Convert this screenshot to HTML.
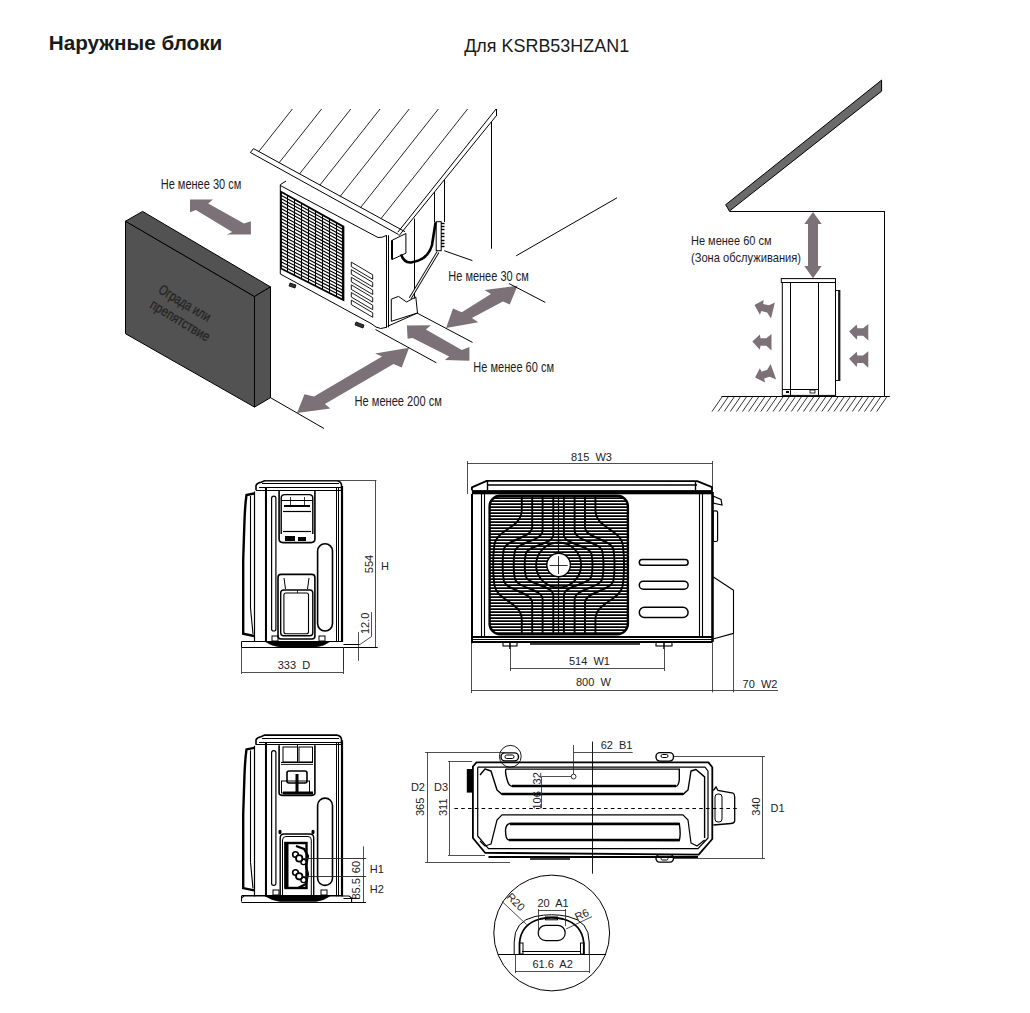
<!DOCTYPE html>
<html><head><meta charset="utf-8"><style>
html,body{margin:0;padding:0;background:#fff;}
body{width:1030px;height:1013px;position:relative;overflow:hidden;font-family:"Liberation Sans",sans-serif;}
svg{position:absolute;left:0;top:0;}
</style></head><body>
<svg width="1030" height="1013" viewBox="0 0 1030 1013">
<text x="48.80" y="49.80" font-family="Liberation Sans" font-size="20.7" fill="#1a1a1a" font-weight="bold" text-anchor="start"   xml:space="preserve">Наружные блоки</text>
<text x="464.20" y="51.80" font-family="Liberation Sans" font-size="17.95" fill="#1a1a1a" font-weight="normal" text-anchor="start"   xml:space="preserve">Для KSRB53HZAN1</text>
<polygon points="125.5,221.2 254.5,296.5 254.5,407.1 125.5,333.7" fill="#535253" stroke="#000" stroke-width="1" />
<polygon points="125.5,221.2 142.6,211.4 270.5,286.9 254.5,296.5" fill="#535253" stroke="#000" stroke-width="1" />
<polygon points="254.5,296.5 270.5,286.9 270.5,397.7 254.5,407.1" fill="#535253" stroke="#000" stroke-width="1" />
<text x="0.00" y="0.00" font-family="Liberation Sans" font-size="14" fill="#262626" font-weight="normal" text-anchor="start" textLength="58.0" lengthAdjust="spacingAndGlyphs" transform="translate(157.6,292.3) rotate(31)" stroke="#262626" stroke-width="0.35" xml:space="preserve">Ограда или</text>
<text x="0.00" y="0.00" font-family="Liberation Sans" font-size="14" fill="#262626" font-weight="normal" text-anchor="start" textLength="67.0" lengthAdjust="spacingAndGlyphs" transform="translate(149,307.3) rotate(31)" stroke="#262626" stroke-width="0.35" xml:space="preserve">препятствие</text>
<polygon points="190.0,199.4 213.0,199.4 208.2,203.6 244.0,223.4 250.9,221.3 250.9,234.6 226.9,234.6 232.2,231.9 195.9,210.0 190.0,212.2" fill="#7d7178" stroke="none" stroke-width="1" />
<polygon points="446.1,328.0 453.0,308.4 461.8,312.2 490.9,293.9 484.6,290.1 517.4,285.7 509.8,304.6 502.9,301.5 471.9,317.9 478.3,322.3" fill="#7d7178" stroke="none" stroke-width="1" />
<polygon points="406.9,325.4 430.9,325.2 425.9,329.5 461.8,350.0 469.4,346.9 469.4,360.8 444.8,360.1 449.2,356.4 412.6,338.0 407.6,338.7" fill="#7d7178" stroke="none" stroke-width="1" />
<polygon points="297.0,412.9 304.5,394.2 314.0,396.6 382.0,356.5 375.1,353.4 409.1,347.7 401.7,367.4 393.5,364.0 324.9,404.1 330.3,408.6" fill="#7d7178" stroke="none" stroke-width="1" />
<text x="160.70" y="189.20" font-family="Liberation Sans" font-size="14.4" fill="#1c1c24" font-weight="normal" text-anchor="start" textLength="80.6" lengthAdjust="spacingAndGlyphs"  xml:space="preserve">Не менее 30 см</text>
<text x="448.30" y="280.60" font-family="Liberation Sans" font-size="14.4" fill="#1c1c24" font-weight="normal" text-anchor="start" textLength="80.4" lengthAdjust="spacingAndGlyphs"  xml:space="preserve">Не менее 30 см</text>
<text x="473.30" y="371.80" font-family="Liberation Sans" font-size="14.4" fill="#1c1c24" font-weight="normal" text-anchor="start" textLength="80.7" lengthAdjust="spacingAndGlyphs"  xml:space="preserve">Не менее 60 см</text>
<text x="354.50" y="405.80" font-family="Liberation Sans" font-size="14.4" fill="#1c1c24" font-weight="normal" text-anchor="start" textLength="87.4" lengthAdjust="spacingAndGlyphs"  xml:space="preserve">Не менее 200 см</text>
<line x1="270.50" y1="397.70" x2="324.00" y2="428.50" stroke="#000" stroke-width="1" />
<line x1="375.50" y1="329.50" x2="436.40" y2="362.80" stroke="#000" stroke-width="1" />
<line x1="417.00" y1="313.00" x2="472.50" y2="342.40" stroke="#000" stroke-width="1" />
<line x1="508.90" y1="283.50" x2="545.30" y2="302.40" stroke="#000" stroke-width="1" />
<line x1="444.20" y1="250.70" x2="472.40" y2="260.60" stroke="#000" stroke-width="1" />
<line x1="516.20" y1="255.80" x2="617.00" y2="197.80" stroke="#000" stroke-width="1" />
<line x1="253.50" y1="148.60" x2="405.00" y2="231.70" stroke="#000" stroke-width="1" />
<line x1="250.40" y1="152.50" x2="398.50" y2="234.50" stroke="#000" stroke-width="1" />
<line x1="253.50" y1="148.60" x2="250.40" y2="152.50" stroke="#000" stroke-width="1" />
<line x1="397.80" y1="232.20" x2="496.10" y2="109.00" stroke="#000" stroke-width="1" />
<line x1="399.00" y1="235.70" x2="496.10" y2="116.00" stroke="#000" stroke-width="1" />
<line x1="496.50" y1="109.00" x2="496.50" y2="116.00" stroke="#000" stroke-width="1" />
<line x1="292.40" y1="109.00" x2="258.82" y2="151.52" stroke="#000" stroke-width="0.85" />
<line x1="321.60" y1="109.00" x2="279.19" y2="162.70" stroke="#000" stroke-width="0.85" />
<line x1="350.80" y1="109.00" x2="299.55" y2="173.88" stroke="#000" stroke-width="0.85" />
<line x1="380.00" y1="109.00" x2="319.92" y2="185.07" stroke="#000" stroke-width="0.85" />
<line x1="409.20" y1="109.00" x2="340.29" y2="196.25" stroke="#000" stroke-width="0.85" />
<line x1="438.40" y1="109.00" x2="360.66" y2="207.43" stroke="#000" stroke-width="0.85" />
<line x1="467.60" y1="109.00" x2="381.03" y2="218.61" stroke="#000" stroke-width="0.85" />
<line x1="491.50" y1="122.00" x2="491.50" y2="248.70" stroke="#000" stroke-width="1" />
<polyline points="280.3,184.7 280.3,274.0 371.0,323.5 376.0,327.0 380.6,328.5 386.8,327.3" fill="none" stroke="#000" stroke-width="1" stroke-linejoin="round" />
<line x1="280.30" y1="184.70" x2="286.00" y2="181.00" stroke="#000" stroke-width="1" />
<line x1="280.30" y1="185.50" x2="378.00" y2="237.50" stroke="#000" stroke-width="1" />
<path d="M378,237.5 Q382,238 386.8,235.3" fill="none" stroke="#000" stroke-width="1" />
<line x1="386.50" y1="235.30" x2="386.50" y2="327.30" stroke="#000" stroke-width="1" />
<line x1="388.50" y1="235.30" x2="388.50" y2="327.30" stroke="#000" stroke-width="1" />
<line x1="414.50" y1="218.60" x2="414.50" y2="298.60" stroke="#000" stroke-width="1" />
<line x1="434.50" y1="192.00" x2="434.50" y2="222.00" stroke="#000" stroke-width="1" />
<line x1="444.50" y1="180.00" x2="444.50" y2="222.00" stroke="#000" stroke-width="1" />
<polygon points="281.0,191.8 343.4,226.6 343.4,300.0 281.0,268.5" fill="none" stroke="#000" stroke-width="1.8" />
<line x1="343.00" y1="226.60" x2="343.00" y2="300.00" stroke="#000" stroke-width="2.2" />
<line x1="281.00" y1="195.13" x2="343.40" y2="229.79" stroke="#000" stroke-width="1.15" />
<line x1="281.00" y1="198.47" x2="343.40" y2="232.98" stroke="#000" stroke-width="1.15" />
<line x1="281.00" y1="201.80" x2="343.40" y2="236.17" stroke="#000" stroke-width="1.15" />
<line x1="281.00" y1="205.14" x2="343.40" y2="239.37" stroke="#000" stroke-width="1.15" />
<line x1="281.00" y1="208.47" x2="343.40" y2="242.56" stroke="#000" stroke-width="1.15" />
<line x1="281.00" y1="211.81" x2="343.40" y2="245.75" stroke="#000" stroke-width="1.15" />
<line x1="281.00" y1="215.14" x2="343.40" y2="248.94" stroke="#000" stroke-width="1.15" />
<line x1="281.00" y1="218.48" x2="343.40" y2="252.13" stroke="#000" stroke-width="1.15" />
<line x1="281.00" y1="221.81" x2="343.40" y2="255.32" stroke="#000" stroke-width="1.15" />
<line x1="281.00" y1="225.15" x2="343.40" y2="258.51" stroke="#000" stroke-width="1.15" />
<line x1="281.00" y1="228.48" x2="343.40" y2="261.70" stroke="#000" stroke-width="1.15" />
<line x1="281.00" y1="231.82" x2="343.40" y2="264.90" stroke="#000" stroke-width="1.15" />
<line x1="281.00" y1="235.15" x2="343.40" y2="268.09" stroke="#000" stroke-width="1.15" />
<line x1="281.00" y1="238.49" x2="343.40" y2="271.28" stroke="#000" stroke-width="1.15" />
<line x1="281.00" y1="241.82" x2="343.40" y2="274.47" stroke="#000" stroke-width="1.15" />
<line x1="281.00" y1="245.16" x2="343.40" y2="277.66" stroke="#000" stroke-width="1.15" />
<line x1="281.00" y1="248.49" x2="343.40" y2="280.85" stroke="#000" stroke-width="1.15" />
<line x1="281.00" y1="251.83" x2="343.40" y2="284.04" stroke="#000" stroke-width="1.15" />
<line x1="281.00" y1="255.16" x2="343.40" y2="287.23" stroke="#000" stroke-width="1.15" />
<line x1="281.00" y1="258.50" x2="343.40" y2="290.43" stroke="#000" stroke-width="1.15" />
<line x1="281.00" y1="261.83" x2="343.40" y2="293.62" stroke="#000" stroke-width="1.15" />
<line x1="281.00" y1="265.17" x2="343.40" y2="296.81" stroke="#000" stroke-width="1.15" />
<line x1="287.50" y1="195.67" x2="287.50" y2="272.00" stroke="#000" stroke-width="1" />
<line x1="294.50" y1="199.53" x2="294.50" y2="275.50" stroke="#000" stroke-width="1" />
<line x1="301.50" y1="203.40" x2="301.50" y2="279.00" stroke="#000" stroke-width="1" />
<line x1="308.50" y1="207.27" x2="308.50" y2="282.50" stroke="#000" stroke-width="1" />
<line x1="315.50" y1="211.13" x2="315.50" y2="286.00" stroke="#000" stroke-width="1" />
<line x1="322.50" y1="215.00" x2="322.50" y2="289.50" stroke="#000" stroke-width="1" />
<line x1="329.50" y1="218.87" x2="329.50" y2="293.00" stroke="#000" stroke-width="1" />
<line x1="336.50" y1="222.73" x2="336.50" y2="296.50" stroke="#000" stroke-width="1" />
<polygon points="351.3,262.1 372.7,274.8 372.7,279.3 351.3,266.6" fill="none" stroke="#000" stroke-width="0.9" />
<polygon points="351.3,269.7 372.7,282.4 372.7,286.9 351.3,274.2" fill="none" stroke="#000" stroke-width="0.9" />
<polygon points="351.3,277.3 372.7,290.0 372.7,294.5 351.3,281.8" fill="none" stroke="#000" stroke-width="0.9" />
<polygon points="351.3,284.9 372.7,297.6 372.7,302.1 351.3,289.4" fill="none" stroke="#000" stroke-width="0.9" />
<polygon points="351.3,292.5 372.7,305.2 372.7,309.7 351.3,297.0" fill="none" stroke="#000" stroke-width="0.9" />
<polygon points="351.3,300.1 372.7,312.8 372.7,317.3 351.3,304.6" fill="none" stroke="#000" stroke-width="0.9" />
<polygon points="290.0,283.0 296.0,285.0 295.0,288.0 289.0,286.0" fill="#333" stroke="#000" stroke-width="0.8" />
<polygon points="356.0,322.0 364.0,325.0 363.0,328.0 355.0,325.0" fill="#333" stroke="#000" stroke-width="0.8" />
<polygon points="392.3,240.2 405.9,233.5 405.9,253.2 392.3,259.4" fill="none" stroke="#000" stroke-width="1" />
<line x1="392.00" y1="240.20" x2="392.00" y2="259.40" stroke="#000" stroke-width="2" />
<path d="M401,254.4 Q404,263 411,262.5 Q428,260 432,245 L435.6,222.3" fill="none" stroke="#000" stroke-width="2.6" />
<rect x="436.20" y="221.70" width="5.00" height="29.00" rx="0" fill="none" stroke="#000" stroke-width="1" />
<line x1="441.00" y1="223.50" x2="444.50" y2="223.50" stroke="#000" stroke-width="1.4" />
<line x1="441.00" y1="226.50" x2="444.50" y2="226.50" stroke="#000" stroke-width="1.4" />
<line x1="441.00" y1="229.50" x2="444.50" y2="229.50" stroke="#000" stroke-width="1.4" />
<line x1="441.00" y1="233.50" x2="444.50" y2="233.50" stroke="#000" stroke-width="1.4" />
<line x1="441.00" y1="236.50" x2="444.50" y2="236.50" stroke="#000" stroke-width="1.4" />
<line x1="441.00" y1="240.50" x2="444.50" y2="240.50" stroke="#000" stroke-width="1.4" />
<line x1="441.00" y1="243.50" x2="444.50" y2="243.50" stroke="#000" stroke-width="1.4" />
<line x1="441.00" y1="246.50" x2="444.50" y2="246.50" stroke="#000" stroke-width="1.4" />
<path d="M438,252 L410.2,298.3" fill="none" stroke="#000" stroke-width="3" />
<path d="M438,252 L410.2,298.3" fill="none" stroke="#fff" stroke-width="1.2" />
<polyline points="391.3,299.2 398.5,296.4 406.5,302.0 415.8,297.0 417.5,313.0 391.3,321.3 391.3,299.2" fill="none" stroke="#000" stroke-width="1" stroke-linejoin="round" />
<line x1="417.50" y1="313.00" x2="387.60" y2="326.30" stroke="#000" stroke-width="1" />
<polygon points="729.4,211.1 725.7,204.7 881.6,80.1 881.6,91.2" fill="#6a6a6a" stroke="#000" stroke-width="1" />
<line x1="729.40" y1="211.50" x2="884.40" y2="211.50" stroke="#000" stroke-width="1" />
<line x1="884.50" y1="211.10" x2="884.50" y2="396.50" stroke="#000" stroke-width="1" />
<line x1="721.50" y1="396.50" x2="889.80" y2="396.50" stroke="#000" stroke-width="1" />
<line x1="722.00" y1="397.00" x2="712.00" y2="411.50" stroke="#000" stroke-width="0.8" />
<line x1="728.10" y1="397.00" x2="718.10" y2="411.50" stroke="#000" stroke-width="0.8" />
<line x1="734.20" y1="397.00" x2="724.20" y2="411.50" stroke="#000" stroke-width="0.8" />
<line x1="740.30" y1="397.00" x2="730.30" y2="411.50" stroke="#000" stroke-width="0.8" />
<line x1="746.40" y1="397.00" x2="736.40" y2="411.50" stroke="#000" stroke-width="0.8" />
<line x1="752.50" y1="397.00" x2="742.50" y2="411.50" stroke="#000" stroke-width="0.8" />
<line x1="758.60" y1="397.00" x2="748.60" y2="411.50" stroke="#000" stroke-width="0.8" />
<line x1="764.70" y1="397.00" x2="754.70" y2="411.50" stroke="#000" stroke-width="0.8" />
<line x1="770.80" y1="397.00" x2="760.80" y2="411.50" stroke="#000" stroke-width="0.8" />
<line x1="776.90" y1="397.00" x2="766.90" y2="411.50" stroke="#000" stroke-width="0.8" />
<line x1="783.00" y1="397.00" x2="773.00" y2="411.50" stroke="#000" stroke-width="0.8" />
<line x1="789.10" y1="397.00" x2="779.10" y2="411.50" stroke="#000" stroke-width="0.8" />
<line x1="795.20" y1="397.00" x2="785.20" y2="411.50" stroke="#000" stroke-width="0.8" />
<line x1="801.30" y1="397.00" x2="791.30" y2="411.50" stroke="#000" stroke-width="0.8" />
<line x1="807.40" y1="397.00" x2="797.40" y2="411.50" stroke="#000" stroke-width="0.8" />
<line x1="813.50" y1="397.00" x2="803.50" y2="411.50" stroke="#000" stroke-width="0.8" />
<line x1="819.60" y1="397.00" x2="809.60" y2="411.50" stroke="#000" stroke-width="0.8" />
<line x1="825.70" y1="397.00" x2="815.70" y2="411.50" stroke="#000" stroke-width="0.8" />
<line x1="831.80" y1="397.00" x2="821.80" y2="411.50" stroke="#000" stroke-width="0.8" />
<line x1="837.90" y1="397.00" x2="827.90" y2="411.50" stroke="#000" stroke-width="0.8" />
<line x1="844.00" y1="397.00" x2="834.00" y2="411.50" stroke="#000" stroke-width="0.8" />
<line x1="850.10" y1="397.00" x2="840.10" y2="411.50" stroke="#000" stroke-width="0.8" />
<line x1="856.20" y1="397.00" x2="846.20" y2="411.50" stroke="#000" stroke-width="0.8" />
<line x1="862.30" y1="397.00" x2="852.30" y2="411.50" stroke="#000" stroke-width="0.8" />
<line x1="868.40" y1="397.00" x2="858.40" y2="411.50" stroke="#000" stroke-width="0.8" />
<line x1="874.50" y1="397.00" x2="864.50" y2="411.50" stroke="#000" stroke-width="0.8" />
<line x1="880.60" y1="397.00" x2="870.60" y2="411.50" stroke="#000" stroke-width="0.8" />
<line x1="886.70" y1="397.00" x2="876.70" y2="411.50" stroke="#000" stroke-width="0.8" />
<polygon points="813.0,212.0 821.7,224.0 818.0,224.0 818.0,266.0 821.7,266.0 813.0,278.2 804.3,266.0 808.0,266.0 808.0,224.0 804.3,224.0" fill="#7d7178" stroke="none" stroke-width="1" />
<text x="691.00" y="244.80" font-family="Liberation Sans" font-size="13.4" fill="#1c1c24" font-weight="normal" text-anchor="start" textLength="80.5" lengthAdjust="spacingAndGlyphs"  xml:space="preserve">Не менее 60 см</text>
<text x="691.00" y="261.90" font-family="Liberation Sans" font-size="13.4" fill="#1c1c24" font-weight="normal" text-anchor="start" textLength="110.0" lengthAdjust="spacingAndGlyphs"  xml:space="preserve">(Зона обслуживания)</text>
<rect x="781.30" y="278.60" width="54.20" height="3.90" rx="0" fill="none" stroke="#000" stroke-width="1" />
<rect x="782.30" y="282.50" width="53.20" height="112.90" rx="0" fill="none" stroke="#000" stroke-width="1" />
<line x1="790.50" y1="282.50" x2="790.50" y2="395.40" stroke="#000" stroke-width="1" />
<line x1="818.50" y1="282.50" x2="818.50" y2="395.40" stroke="#000" stroke-width="1" />
<rect x="835.50" y="290.50" width="4.40" height="90.00" rx="0" fill="none" stroke="#000" stroke-width="0.9" />
<line x1="839.00" y1="291.00" x2="839.00" y2="380.00" stroke="#000" stroke-width="1.6" />
<line x1="782.30" y1="389.50" x2="818.60" y2="389.50" stroke="#000" stroke-width="1" />
<rect x="786.00" y="391.00" width="3.00" height="2.00" rx="0" fill="#000" stroke="none" stroke-width="1" />
<rect x="810.00" y="390.00" width="5.00" height="3.00" rx="0" fill="none" stroke="#000" stroke-width="0.8" />
<polygon points="754.5,305.0 763.6,300.0 763.2,303.9 768.9,305.3 774.9,302.4 771.0,318.4 767.1,312.5 761.4,311.1 759.9,314.8" fill="#7d7178" stroke="none" stroke-width="1" />
<polygon points="752.3,341.5 759.9,334.5 760.5,338.3 766.3,338.3 771.5,334.0 771.5,350.5 766.3,345.7 760.5,345.7 759.9,349.7" fill="#7d7178" stroke="none" stroke-width="1" />
<polygon points="755.1,377.5 759.8,368.3 761.7,371.7 767.2,369.7 770.6,363.9 776.2,379.4 769.7,376.7 764.2,378.6 765.0,382.6" fill="#7d7178" stroke="none" stroke-width="1" />
<polygon points="849.1,331.5 856.7,324.5 857.3,328.3 863.1,328.3 868.3,324.0 868.3,340.5 863.1,335.7 857.3,335.7 856.7,339.7" fill="#7d7178" stroke="none" stroke-width="1" />
<polygon points="849.1,358.8 856.7,351.8 857.3,355.6 863.1,355.6 868.3,351.3 868.3,367.8 863.1,363.0 857.3,363.0 856.7,367.0" fill="#7d7178" stroke="none" stroke-width="1" />
<path d="M256,490.3 L256,485.5 Q257,483 261,482.3 L264.7,480.7 L337,480.7 Q341.6,481.5 341.6,486 L341.6,490.3" fill="none" stroke="#000" stroke-width="1.6" />
<line x1="262.00" y1="483.50" x2="339.00" y2="483.50" stroke="#000" stroke-width="1" />
<line x1="259.00" y1="487.50" x2="341.60" y2="487.50" stroke="#000" stroke-width="1.2" />
<line x1="256.00" y1="490.50" x2="341.60" y2="490.50" stroke="#000" stroke-width="1.2" />
<line x1="254.50" y1="491.40" x2="254.50" y2="642.00" stroke="#000" stroke-width="1.2" />
<line x1="342.00" y1="486.00" x2="342.00" y2="642.00" stroke="#000" stroke-width="2.2" />
<line x1="265.50" y1="488.00" x2="265.50" y2="642.00" stroke="#000" stroke-width="1.1" />
<line x1="266.50" y1="488.00" x2="266.50" y2="642.00" stroke="#000" stroke-width="1.0" />
<line x1="336.50" y1="488.00" x2="336.50" y2="642.00" stroke="#000" stroke-width="1.0" />
<line x1="338.50" y1="488.00" x2="338.50" y2="642.00" stroke="#000" stroke-width="1.0" />
<path d="M254,493.5 L246.5,495 Q245,505 244.4,523 L243.2,560 L243.2,633.7 L254,636" fill="none" stroke="#000" stroke-width="2.4" />
<line x1="250.50" y1="496.00" x2="250.50" y2="608.00" stroke="#000" stroke-width="1.1" />
<line x1="250.50" y1="608.00" x2="253.00" y2="634.00" stroke="#000" stroke-width="1.1" />
<rect x="271.60" y="496.20" width="4.30" height="134.80" rx="2.1" fill="none" stroke="#000" stroke-width="1.2" />
<line x1="241.60" y1="641.50" x2="343.00" y2="641.50" stroke="#000" stroke-width="1.1" />
<line x1="241.50" y1="641.50" x2="241.50" y2="647.30" stroke="#000" stroke-width="1.1" />
<line x1="343.50" y1="644.50" x2="359.70" y2="644.50" stroke="#000" stroke-width="1.0" />
<path d="M265,641.5 Q272,646 280,647 L316,647 Q324,646 330,641.5 Z" fill="#000" stroke="#000" stroke-width="0.5" />
<rect x="317.60" y="543.70" width="14.90" height="87.30" rx="7.4" fill="none" stroke="#000" stroke-width="1.6" />
<path d="M279.1,490.8 L279.1,539 Q279.1,542.6 283,542.6 L311,542.6 Q314.9,542.6 314.9,539 L314.9,490.8" fill="none" stroke="#000" stroke-width="1.6" />
<path d="M281.2,534 L281.2,498 Q281.2,494.6 285,494.6 L309,494.6 Q312.8,494.6 312.8,498 L312.8,534" fill="none" stroke="#000" stroke-width="1.4" />
<line x1="281.20" y1="500.50" x2="312.80" y2="500.50" stroke="#000" stroke-width="1" />
<line x1="284.00" y1="506.00" x2="310.00" y2="506.00" stroke="#000" stroke-width="2" />
<line x1="283.00" y1="511.50" x2="311.00" y2="511.50" stroke="#000" stroke-width="1.2" />
<line x1="283.00" y1="531.50" x2="311.00" y2="531.50" stroke="#000" stroke-width="1.2" />
<line x1="290.50" y1="497.00" x2="290.50" y2="505.00" stroke="#000" stroke-width="0.8" />
<line x1="304.50" y1="497.00" x2="304.50" y2="505.00" stroke="#000" stroke-width="0.8" />
<rect x="285.00" y="536.00" width="10.00" height="5.00" rx="0" fill="#000" stroke="none" stroke-width="1" />
<rect x="298.00" y="537.00" width="8.00" height="4.00" rx="0" fill="#000" stroke="none" stroke-width="1" />
<rect x="278.00" y="574.40" width="36.90" height="64.60" rx="3" fill="none" stroke="#000" stroke-width="1.6" />
<rect x="280.70" y="590.00" width="32.10" height="45.80" rx="3" fill="none" stroke="#000" stroke-width="1.4" />
<rect x="283.90" y="593.00" width="24.60" height="40.70" rx="2" fill="none" stroke="#000" stroke-width="1.1" />
<line x1="284.00" y1="578.00" x2="285.50" y2="589.00" stroke="#000" stroke-width="1" />
<line x1="309.00" y1="578.00" x2="307.50" y2="589.00" stroke="#000" stroke-width="1" />
<line x1="297.50" y1="590.00" x2="297.50" y2="593.00" stroke="#000" stroke-width="0.8" />
<rect x="272.00" y="636.00" width="6.00" height="5.00" rx="0" fill="none" stroke="#000" stroke-width="1" />
<rect x="319.00" y="636.00" width="6.00" height="5.00" rx="0" fill="none" stroke="#000" stroke-width="1" />
<line x1="264.70" y1="480.50" x2="376.40" y2="480.50" stroke="#222" stroke-width="0.8" />
<line x1="375.50" y1="480.50" x2="375.50" y2="647.50" stroke="#222" stroke-width="0.8" />
<line x1="241.60" y1="647.50" x2="377.70" y2="647.50" stroke="#000" stroke-width="1.1" />
<line x1="343.50" y1="647.00" x2="343.50" y2="670.00" stroke="#222" stroke-width="0.8" />
<text x="0" y="0" transform="translate(373.20,573.20) rotate(-90)" font-family="Liberation Sans" font-size="11" fill="#222"  xml:space="preserve">554</text>
<text x="381.00" y="570.20" font-family="Liberation Sans" font-size="11" fill="#222" font-weight="normal" text-anchor="start"   xml:space="preserve">H</text>
<text x="0" y="0" transform="translate(368.60,634.00) rotate(-90)" font-family="Liberation Sans" font-size="11" fill="#222"  xml:space="preserve">12.0</text>
<line x1="358.50" y1="632.10" x2="358.50" y2="660.80" stroke="#222" stroke-width="0.8" />
<polyline points="359.7,644.6 371.5,636.6 371.5,612.1" fill="none" stroke="#222" stroke-width="0.8" stroke-linejoin="round" />
<line x1="241.50" y1="647.00" x2="241.50" y2="674.00" stroke="#222" stroke-width="0.8" />
<line x1="343.50" y1="647.00" x2="343.50" y2="674.00" stroke="#222" stroke-width="0.8" />
<line x1="242.00" y1="672.50" x2="343.50" y2="672.50" stroke="#222" stroke-width="0.8" />
<text x="277.70" y="668.80" font-family="Liberation Sans" font-size="11" fill="#222" font-weight="normal" text-anchor="start"   xml:space="preserve">333  D</text>
<path d="M256,744.7 L256,739.9 Q257,737.4 261,736.7 L264.7,735.1 L337,735.1 Q341.6,735.9 341.6,740.4 L341.6,744.7" fill="none" stroke="#000" stroke-width="1.6" />
<line x1="262.00" y1="738.50" x2="339.00" y2="738.50" stroke="#000" stroke-width="1" />
<line x1="259.00" y1="742.50" x2="341.60" y2="742.50" stroke="#000" stroke-width="1.2" />
<line x1="256.00" y1="744.50" x2="341.60" y2="744.50" stroke="#000" stroke-width="1.2" />
<line x1="254.50" y1="745.80" x2="254.50" y2="896.40" stroke="#000" stroke-width="1.2" />
<line x1="342.00" y1="740.40" x2="342.00" y2="896.40" stroke="#000" stroke-width="2.2" />
<line x1="265.50" y1="742.40" x2="265.50" y2="896.40" stroke="#000" stroke-width="1.1" />
<line x1="266.50" y1="742.40" x2="266.50" y2="896.40" stroke="#000" stroke-width="1.0" />
<line x1="336.50" y1="742.40" x2="336.50" y2="896.40" stroke="#000" stroke-width="1.0" />
<line x1="338.50" y1="742.40" x2="338.50" y2="896.40" stroke="#000" stroke-width="1.0" />
<path d="M254,747.9 L246.5,749.4 Q245,759.4 244.4,777.4 L243.2,814.4 L243.2,888.1 L254,890.4" fill="none" stroke="#000" stroke-width="2.4" />
<line x1="250.50" y1="750.40" x2="250.50" y2="862.40" stroke="#000" stroke-width="1.1" />
<line x1="250.50" y1="862.40" x2="253.00" y2="888.40" stroke="#000" stroke-width="1.1" />
<rect x="271.60" y="750.60" width="4.30" height="134.80" rx="2.1" fill="none" stroke="#000" stroke-width="1.2" />
<line x1="241.60" y1="895.50" x2="343.00" y2="895.50" stroke="#000" stroke-width="1.1" />
<line x1="241.50" y1="895.90" x2="241.50" y2="901.70" stroke="#000" stroke-width="1.1" />
<line x1="343.50" y1="898.50" x2="359.70" y2="898.50" stroke="#000" stroke-width="1.0" />
<path d="M265,895.9 Q272,900.4 280,901.4 L316,901.4 Q324,900.4 330,895.9 Z" fill="#000" stroke="#000" stroke-width="0.5" />
<rect x="317.60" y="798.10" width="14.90" height="87.30" rx="7.4" fill="none" stroke="#000" stroke-width="1.6" />
<path d="M279.1,745.2 L279.1,793.4 Q279.1,795.0 283,795.4 L311,795.4 Q314.9,795.0 314.9,793.4 L314.9,745.2" fill="none" stroke="#000" stroke-width="1.6" />
<line x1="281.00" y1="762.50" x2="313.00" y2="762.50" stroke="#000" stroke-width="1.2" />
<line x1="281.00" y1="764.50" x2="313.00" y2="764.50" stroke="#000" stroke-width="0.8" />
<rect x="283.00" y="747.00" width="14.50" height="15.00" rx="0" fill="none" stroke="#000" stroke-width="1" />
<rect x="299.00" y="747.00" width="13.50" height="15.00" rx="0" fill="none" stroke="#000" stroke-width="1" />
<line x1="297.50" y1="744.00" x2="297.50" y2="762.00" stroke="#000" stroke-width="1" />
<rect x="287.00" y="771.00" width="20.00" height="12.00" rx="2" fill="none" stroke="#000" stroke-width="1.6" />
<rect x="295.50" y="774.00" width="3.00" height="18.00" rx="0" fill="#000" stroke="none" stroke-width="1" />
<rect x="281.50" y="781.00" width="28.00" height="12.00" rx="0" fill="none" stroke="#000" stroke-width="1" />
<rect x="283.00" y="791.50" width="30.00" height="3.00" rx="0" fill="#000" stroke="none" stroke-width="1" />
<path d="M280.2,895 L280.2,838 Q280.2,834 284,834 L310,834 Q313.7,834 313.7,838 L313.7,895" fill="none" stroke="#000" stroke-width="1.4" />
<path d="M282.5,895 L282.5,840 Q282.5,836.5 286,836.5 L308,836.5 Q311.3,836.5 311.3,840 L311.3,895" fill="none" stroke="#000" stroke-width="1" />
<rect x="285.50" y="843.00" width="21.00" height="45.00" rx="0" fill="none" stroke="#000" stroke-width="2.4" />
<rect x="284.50" y="842.00" width="4.00" height="46.00" rx="0" fill="#000" stroke="none" stroke-width="1" />
<path d="M296,846 L304,849 L308,856 L306,866 L308,874 L306,884 L298,888" fill="none" stroke="#000" stroke-width="2.2" />
<circle cx="295.50" cy="854.50" r="2.80" fill="#fff" stroke="#000" stroke-width="1.6"/>
<circle cx="303.50" cy="862.00" r="2.60" fill="#fff" stroke="#000" stroke-width="1.4"/>
<circle cx="295.50" cy="872.50" r="2.80" fill="#fff" stroke="#000" stroke-width="1.6"/>
<circle cx="303.50" cy="880.00" r="2.60" fill="#fff" stroke="#000" stroke-width="1.4"/>
<circle cx="299.20" cy="858.40" r="3.20" fill="#fff" stroke="#000" stroke-width="1.8"/>
<circle cx="299.20" cy="876.30" r="3.20" fill="#fff" stroke="#000" stroke-width="1.8"/>
<ellipse cx="280" cy="832" rx="1.6" ry="2.2" fill="#000"/>
<ellipse cx="313" cy="832" rx="1.6" ry="2.2" fill="#000"/>
<rect x="273.00" y="890.00" width="6.00" height="5.00" rx="0" fill="none" stroke="#000" stroke-width="1" />
<rect x="321.00" y="890.00" width="6.00" height="5.00" rx="0" fill="none" stroke="#000" stroke-width="1" />
<line x1="302.40" y1="858.50" x2="366.20" y2="858.50" stroke="#222" stroke-width="0.9" />
<line x1="302.40" y1="876.50" x2="366.20" y2="876.50" stroke="#222" stroke-width="0.9" />
<line x1="363.50" y1="846.30" x2="363.50" y2="902.40" stroke="#222" stroke-width="0.8" />
<line x1="241.60" y1="902.50" x2="366.00" y2="902.50" stroke="#000" stroke-width="1.1" />
<path d="M241.6,898 L244,896 L270,896 M325,896 L349,896 L351.6,898 L351.6,902" fill="none" stroke="#000" stroke-width="1.1" />
<text x="0" y="0" transform="translate(360.30,873.20) rotate(-90)" font-family="Liberation Sans" font-size="11" fill="#222"  xml:space="preserve">60</text>
<text x="0" y="0" transform="translate(360.30,899.50) rotate(-90)" font-family="Liberation Sans" font-size="11" fill="#222"  xml:space="preserve">85.5</text>
<text x="369.80" y="873.20" font-family="Liberation Sans" font-size="11" fill="#222" font-weight="normal" text-anchor="start"   xml:space="preserve">H1</text>
<text x="369.80" y="892.90" font-family="Liberation Sans" font-size="11" fill="#222" font-weight="normal" text-anchor="start"   xml:space="preserve">H2</text>
<line x1="467.50" y1="461.00" x2="467.50" y2="494.00" stroke="#222" stroke-width="0.8" />
<line x1="712.50" y1="461.00" x2="712.50" y2="692.40" stroke="#222" stroke-width="0.8" />
<line x1="467.40" y1="463.50" x2="712.60" y2="463.50" stroke="#222" stroke-width="0.8" />
<text x="571.00" y="461.00" font-family="Liberation Sans" font-size="11" fill="#222" font-weight="normal" text-anchor="start"   xml:space="preserve">815  W3</text>
<polyline points="471.9,490.3 471.9,487.3 486.7,480.9 697.2,481.1 712.0,487.2 712.0,490.3" fill="none" stroke="#000" stroke-width="1.9" stroke-linejoin="round" />
<line x1="488.00" y1="485.00" x2="697.00" y2="485.00" stroke="#000" stroke-width="1.6" />
<line x1="487.50" y1="481.00" x2="487.50" y2="490.30" stroke="#000" stroke-width="1.4" />
<line x1="695.50" y1="481.00" x2="695.50" y2="490.30" stroke="#000" stroke-width="1.4" />
<rect x="471.90" y="490.10" width="240.50" height="4.20" rx="0" fill="#000" stroke="none" stroke-width="1" />
<line x1="472.00" y1="494.00" x2="472.00" y2="643.20" stroke="#000" stroke-width="2" />
<line x1="481.50" y1="494.00" x2="481.50" y2="637.00" stroke="#000" stroke-width="1.1" />
<line x1="484.50" y1="494.00" x2="484.50" y2="637.00" stroke="#000" stroke-width="1.1" />
<line x1="699.50" y1="494.00" x2="699.50" y2="637.00" stroke="#000" stroke-width="1.1" />
<line x1="702.50" y1="494.00" x2="702.50" y2="637.00" stroke="#000" stroke-width="1.1" />
<line x1="471.50" y1="637.00" x2="712.00" y2="637.00" stroke="#000" stroke-width="2.2" />
<line x1="471.90" y1="639.50" x2="712.00" y2="639.50" stroke="#000" stroke-width="1.2" />
<line x1="471.90" y1="642.00" x2="712.00" y2="642.00" stroke="#000" stroke-width="1.8" />
<line x1="712.50" y1="492.00" x2="712.50" y2="642.00" stroke="#000" stroke-width="2.6" />
<clipPath id="gc"><rect x="489.3" y="495.8" width="138.6" height="138.6" rx="10.7"/></clipPath>
<g clip-path="url(#gc)">
<line x1="489" y1="498.0" x2="628" y2="498.0" stroke="#000" stroke-width="1.75"/>
<line x1="489" y1="501.0" x2="628" y2="501.0" stroke="#000" stroke-width="1.75"/>
<line x1="489" y1="504.0" x2="628" y2="504.0" stroke="#000" stroke-width="1.75"/>
<line x1="489" y1="507.0" x2="628" y2="507.0" stroke="#000" stroke-width="1.75"/>
<line x1="489" y1="510.0" x2="628" y2="510.0" stroke="#000" stroke-width="1.75"/>
<line x1="489" y1="513.0" x2="628" y2="513.0" stroke="#000" stroke-width="1.75"/>
<line x1="489" y1="516.0" x2="628" y2="516.0" stroke="#000" stroke-width="1.75"/>
<line x1="489" y1="519.0" x2="628" y2="519.0" stroke="#000" stroke-width="1.75"/>
<line x1="489" y1="522.0" x2="628" y2="522.0" stroke="#000" stroke-width="1.75"/>
<line x1="489" y1="525.0" x2="628" y2="525.0" stroke="#000" stroke-width="1.75"/>
<line x1="489" y1="528.0" x2="628" y2="528.0" stroke="#000" stroke-width="1.75"/>
<line x1="489" y1="531.0" x2="628" y2="531.0" stroke="#000" stroke-width="1.75"/>
<line x1="489" y1="534.0" x2="628" y2="534.0" stroke="#000" stroke-width="1.75"/>
<line x1="489" y1="537.0" x2="628" y2="537.0" stroke="#000" stroke-width="1.75"/>
<line x1="489" y1="540.0" x2="628" y2="540.0" stroke="#000" stroke-width="1.75"/>
<line x1="489" y1="543.0" x2="628" y2="543.0" stroke="#000" stroke-width="1.75"/>
<line x1="489" y1="546.0" x2="628" y2="546.0" stroke="#000" stroke-width="1.75"/>
<line x1="489" y1="549.0" x2="628" y2="549.0" stroke="#000" stroke-width="1.75"/>
<line x1="489" y1="552.0" x2="628" y2="552.0" stroke="#000" stroke-width="1.75"/>
<line x1="489" y1="555.0" x2="628" y2="555.0" stroke="#000" stroke-width="1.75"/>
<line x1="489" y1="558.0" x2="628" y2="558.0" stroke="#000" stroke-width="1.75"/>
<line x1="489" y1="561.0" x2="628" y2="561.0" stroke="#000" stroke-width="1.75"/>
<line x1="489" y1="564.0" x2="628" y2="564.0" stroke="#000" stroke-width="1.75"/>
<line x1="489" y1="567.0" x2="628" y2="567.0" stroke="#000" stroke-width="1.75"/>
<line x1="489" y1="570.0" x2="628" y2="570.0" stroke="#000" stroke-width="1.75"/>
<line x1="489" y1="573.0" x2="628" y2="573.0" stroke="#000" stroke-width="1.75"/>
<line x1="489" y1="576.0" x2="628" y2="576.0" stroke="#000" stroke-width="1.75"/>
<line x1="489" y1="579.0" x2="628" y2="579.0" stroke="#000" stroke-width="1.75"/>
<line x1="489" y1="582.0" x2="628" y2="582.0" stroke="#000" stroke-width="1.75"/>
<line x1="489" y1="585.0" x2="628" y2="585.0" stroke="#000" stroke-width="1.75"/>
<line x1="489" y1="588.0" x2="628" y2="588.0" stroke="#000" stroke-width="1.75"/>
<line x1="489" y1="591.0" x2="628" y2="591.0" stroke="#000" stroke-width="1.75"/>
<line x1="489" y1="594.0" x2="628" y2="594.0" stroke="#000" stroke-width="1.75"/>
<line x1="489" y1="597.0" x2="628" y2="597.0" stroke="#000" stroke-width="1.75"/>
<line x1="489" y1="600.0" x2="628" y2="600.0" stroke="#000" stroke-width="1.75"/>
<line x1="489" y1="603.0" x2="628" y2="603.0" stroke="#000" stroke-width="1.75"/>
<line x1="489" y1="606.0" x2="628" y2="606.0" stroke="#000" stroke-width="1.75"/>
<line x1="489" y1="609.0" x2="628" y2="609.0" stroke="#000" stroke-width="1.75"/>
<line x1="489" y1="612.0" x2="628" y2="612.0" stroke="#000" stroke-width="1.75"/>
<line x1="489" y1="615.0" x2="628" y2="615.0" stroke="#000" stroke-width="1.75"/>
<line x1="489" y1="618.0" x2="628" y2="618.0" stroke="#000" stroke-width="1.75"/>
<line x1="489" y1="621.0" x2="628" y2="621.0" stroke="#000" stroke-width="1.75"/>
<line x1="489" y1="624.0" x2="628" y2="624.0" stroke="#000" stroke-width="1.75"/>
<line x1="489" y1="627.0" x2="628" y2="627.0" stroke="#000" stroke-width="1.75"/>
<line x1="489" y1="630.0" x2="628" y2="630.0" stroke="#000" stroke-width="1.75"/>
<line x1="489" y1="633.0" x2="628" y2="633.0" stroke="#000" stroke-width="1.75"/>
<path d="M553.3000000000001,490 L553.3000000000001,535 C553.3000000000001,545.0 525.6,545.0 525.6,555 C524.4,560.0 524.4,570.0 525.6,575 C525.6,585.0 553.3000000000001,585.0 553.3000000000001,595 L553.3000000000001,640" fill="none" stroke="#000" stroke-width="1.9" />
<path d="M563.9,490 L563.9,535 C563.9,545.0 591.6,545.0 591.6,555 C592.8000000000001,560.0 592.8000000000001,570.0 591.6,575 C591.6,585.0 563.9,585.0 563.9,595 L563.9,640" fill="none" stroke="#000" stroke-width="1.9" />
<path d="M542.6,490 L542.6,530.5 C542.6,541.75 514.6,541.75 514.6,553 C513.4,559.0 513.4,571.0 514.6,577 C514.6,588.25 542.6,588.25 542.6,599.5 L542.6,640" fill="none" stroke="#000" stroke-width="1.9" />
<path d="M574.6,490 L574.6,530.5 C574.6,541.75 602.6,541.75 602.6,553 C603.8000000000001,559.0 603.8000000000001,571.0 602.6,577 C602.6,588.25 574.6,588.25 574.6,599.5 L574.6,640" fill="none" stroke="#000" stroke-width="1.9" />
<path d="M532.2,490 L532.2,527 C532.2,539.0 503.6,539.0 503.6,551 C502.40000000000003,558.0 502.40000000000003,572.0 503.6,579 C503.6,591.0 532.2,591.0 532.2,603 L532.2,640" fill="none" stroke="#000" stroke-width="1.9" />
<path d="M585.0,490 L585.0,527 C585.0,539.0 613.6,539.0 613.6,551 C614.8000000000001,558.0 614.8000000000001,572.0 613.6,579 C613.6,591.0 585.0,591.0 585.0,603 L585.0,640" fill="none" stroke="#000" stroke-width="1.9" />
<path d="M521.8000000000001,490 L521.8000000000001,510 C521.8000000000001,529.0 494.1,529.0 494.1,548 C492.90000000000003,556.5 492.90000000000003,573.5 494.1,582 C494.1,601.0 521.8000000000001,601.0 521.8000000000001,620 L521.8000000000001,640" fill="none" stroke="#000" stroke-width="1.9" />
<path d="M595.4,490 L595.4,510 C595.4,529.0 623.1,529.0 623.1,548 C624.3000000000001,556.5 624.3000000000001,573.5 623.1,582 C623.1,601.0 595.4,601.0 595.4,620 L595.4,640" fill="none" stroke="#000" stroke-width="1.9" />
<circle cx="558.60" cy="565.00" r="22.50" fill="none" stroke="#000" stroke-width="1.9"/>
<line x1="558.50" y1="490.00" x2="558.50" y2="640.00" stroke="#000" stroke-width="1.2" />
</g>
<rect x="489.60" y="495.80" width="138.30" height="138.60" rx="10.7" fill="none" stroke="#000" stroke-width="2.4" />
<circle cx="558.60" cy="565.00" r="11.80" fill="#fff" stroke="#000" stroke-width="1.4"/>
<line x1="549.60" y1="565.50" x2="567.60" y2="565.50" stroke="#000" stroke-width="0.8" />
<line x1="558.50" y1="556.00" x2="558.50" y2="574.00" stroke="#000" stroke-width="0.8" />
<rect x="639.30" y="559.60" width="48.80" height="5.70" rx="2.85" fill="none" stroke="#000" stroke-width="1.5" />
<rect x="639.30" y="581.20" width="48.80" height="8.00" rx="4.0" fill="none" stroke="#000" stroke-width="1.5" />
<rect x="639.30" y="607.30" width="48.80" height="10.20" rx="5.1" fill="none" stroke="#000" stroke-width="1.5" />
<polygon points="713.0,496.0 721.0,499.5 722.0,505.0 713.0,503.0" fill="none" stroke="#000" stroke-width="1.2" />
<rect x="713.00" y="510.90" width="4.60" height="30.60" rx="1.5" fill="none" stroke="#000" stroke-width="1.2" />
<polyline points="713.0,576.7 733.5,590.3 733.5,633.4 713.0,639.0" fill="none" stroke="#000" stroke-width="1.1" stroke-linejoin="round" />
<rect x="503.00" y="642.00" width="14.00" height="4.00" rx="0" fill="none" stroke="#000" stroke-width="1.1" />
<line x1="510.00" y1="642.00" x2="510.00" y2="649.00" stroke="#000" stroke-width="1.5" />
<rect x="656.00" y="642.00" width="16.00" height="4.00" rx="0" fill="none" stroke="#000" stroke-width="1.1" />
<line x1="664.00" y1="642.00" x2="664.00" y2="649.00" stroke="#000" stroke-width="1.5" />
<line x1="530.00" y1="644.00" x2="640.00" y2="644.00" stroke="#000" stroke-width="1.6" />
<line x1="510.50" y1="649.00" x2="510.50" y2="671.00" stroke="#222" stroke-width="0.8" />
<line x1="664.50" y1="649.00" x2="664.50" y2="671.00" stroke="#222" stroke-width="0.8" />
<line x1="510.00" y1="668.50" x2="664.30" y2="668.50" stroke="#222" stroke-width="0.8" />
<text x="569.00" y="665.40" font-family="Liberation Sans" font-size="11" fill="#222" font-weight="normal" text-anchor="start"   xml:space="preserve">514  W1</text>
<line x1="471.50" y1="643.00" x2="471.50" y2="693.00" stroke="#222" stroke-width="0.8" />
<line x1="471.50" y1="690.50" x2="712.60" y2="690.50" stroke="#222" stroke-width="0.8" />
<text x="576.00" y="686.40" font-family="Liberation Sans" font-size="11" fill="#222" font-weight="normal" text-anchor="start"   xml:space="preserve">800  W</text>
<line x1="733.50" y1="634.00" x2="733.50" y2="692.40" stroke="#222" stroke-width="0.8" />
<line x1="712.60" y1="690.50" x2="778.00" y2="690.50" stroke="#222" stroke-width="0.8" />
<text x="742.60" y="688.00" font-family="Liberation Sans" font-size="11" fill="#222" font-weight="normal" text-anchor="start"   xml:space="preserve">70  W2</text>
<polyline points="472.9,792.0 472.9,766.5 476.5,762.4 708.4,762.4 712.3,767.2 712.3,839.0 698.7,854.6 485.1,852.8 472.9,838.0 472.9,792.0" fill="none" stroke="#000" stroke-width="1.8" stroke-linejoin="round" />
<polyline points="477.7,767.2 705.0,767.2 708.0,771.0 708.0,838.0 698.0,848.7 488.5,848.7 477.7,836.0 477.7,767.2" fill="none" stroke="#000" stroke-width="1.2" stroke-linejoin="round" />
<line x1="488.50" y1="857.00" x2="698.00" y2="857.00" stroke="#000" stroke-width="2.2" />
<path d="M679.3,769.1 L506.2,769.1 Q505,770 506,775 Q508,786.2 512,786.2 L676,786.2 Q678.5,786 679.3,780 Z" fill="none" stroke="#000" stroke-width="1.4" />
<line x1="512.00" y1="786.00" x2="676.00" y2="786.00" stroke="#000" stroke-width="2.4" />
<polyline points="480.0,775.0 485.0,769.0 491.0,771.0 497.0,790.0 502.0,794.4 683.0,794.4 688.0,790.0 691.0,771.0 696.0,769.5 704.6,776.9 704.6,838.0" fill="none" stroke="#000" stroke-width="1.4" stroke-linejoin="round" />
<line x1="502.00" y1="794.00" x2="683.00" y2="794.00" stroke="#000" stroke-width="2.4" />
<polyline points="480.0,841.0 485.0,846.0 491.0,844.0 497.0,820.0 502.0,814.8 683.0,814.8 688.0,820.0 691.0,843.0 697.0,846.0 704.6,840.0" fill="none" stroke="#000" stroke-width="1.2" stroke-linejoin="round" />
<path d="M679.3,823.5 L510,823.5 Q506,824 505.5,830 Q505.5,840 509,840 L679.3,840.5 Q681,835 679.3,823.5 Z" fill="none" stroke="#000" stroke-width="1.4" />
<line x1="510.00" y1="824.00" x2="679.00" y2="824.00" stroke="#000" stroke-width="2.4" />
<line x1="509.00" y1="840.00" x2="679.30" y2="840.00" stroke="#000" stroke-width="2.4" />
<path d="M713.3,790.5 L716,787 L718,790.5 L733,793 Q734.7,794 734.7,797 L734.7,821 Q734,823.5 731,823.5 L713.3,825" fill="none" stroke="#000" stroke-width="1.3" />
<rect x="715.00" y="794.00" width="7.00" height="28.00" rx="3" fill="none" stroke="#000" stroke-width="1.0" />
<rect x="466.80" y="769.00" width="6.00" height="23.60" rx="0" fill="#000" stroke="none" stroke-width="1" />
<circle cx="510.30" cy="756.30" r="10.90" fill="none" stroke="#000" stroke-width="0.9"/>
<rect x="501.00" y="752.90" width="17.50" height="8.00" rx="4" fill="none" stroke="#000" stroke-width="1.4" />
<rect x="505.00" y="755.00" width="9.00" height="3.50" rx="1.7" fill="none" stroke="#000" stroke-width="1" />
<rect x="656.00" y="752.60" width="17.50" height="8.50" rx="4" fill="none" stroke="#000" stroke-width="1.4" />
<rect x="661.00" y="754.50" width="7.00" height="3.00" rx="1.5" fill="none" stroke="#000" stroke-width="1" />
<rect x="656.00" y="854.60" width="17.50" height="7.50" rx="3.5" fill="none" stroke="#000" stroke-width="1.4" />
<rect x="661.00" y="857.00" width="7.00" height="3.00" rx="1.5" fill="none" stroke="#000" stroke-width="1" />
<line x1="530.00" y1="859.00" x2="570.00" y2="859.00" stroke="#000" stroke-width="1.5" />
<line x1="425.00" y1="752.50" x2="504.90" y2="752.50" stroke="#222" stroke-width="0.8" />
<line x1="425.00" y1="862.50" x2="510.00" y2="862.50" stroke="#222" stroke-width="0.8" />
<line x1="427.50" y1="752.50" x2="427.50" y2="862.30" stroke="#222" stroke-width="0.8" />
<line x1="448.00" y1="761.50" x2="472.00" y2="761.50" stroke="#222" stroke-width="0.8" />
<line x1="448.00" y1="855.50" x2="485.00" y2="855.50" stroke="#222" stroke-width="0.8" />
<line x1="449.50" y1="761.70" x2="449.50" y2="855.00" stroke="#222" stroke-width="0.8" />
<line x1="674.00" y1="756.50" x2="765.00" y2="756.50" stroke="#222" stroke-width="0.8" />
<line x1="674.00" y1="858.50" x2="765.00" y2="858.50" stroke="#222" stroke-width="0.8" />
<line x1="762.50" y1="756.50" x2="762.50" y2="858.40" stroke="#222" stroke-width="0.8" />
<text x="410.90" y="791.40" font-family="Liberation Sans" font-size="11" fill="#222" font-weight="normal" text-anchor="start"   xml:space="preserve">D2</text>
<text x="434.00" y="791.40" font-family="Liberation Sans" font-size="11" fill="#222" font-weight="normal" text-anchor="start"   xml:space="preserve">D3</text>
<text x="770.60" y="811.80" font-family="Liberation Sans" font-size="11" fill="#222" font-weight="normal" text-anchor="start"   xml:space="preserve">D1</text>
<text x="0" y="0" transform="translate(424.20,816.00) rotate(-90)" font-family="Liberation Sans" font-size="11" fill="#222"  xml:space="preserve">365</text>
<text x="0" y="0" transform="translate(446.60,816.00) rotate(-90)" font-family="Liberation Sans" font-size="11" fill="#222"  xml:space="preserve">311</text>
<text x="0" y="0" transform="translate(760.00,815.70) rotate(-90)" font-family="Liberation Sans" font-size="11" fill="#222"  xml:space="preserve">340</text>
<line x1="454.40" y1="808.50" x2="737.90" y2="808.50" stroke="#000" stroke-width="1" stroke-dasharray="3.6,3.2"/>
<line x1="592.50" y1="741.60" x2="592.50" y2="873.70" stroke="#000" stroke-width="0.9" />
<line x1="573.60" y1="752.50" x2="632.70" y2="752.50" stroke="#222" stroke-width="0.8" />
<line x1="573.50" y1="745.00" x2="573.50" y2="774.00" stroke="#222" stroke-width="0.8" />
<circle cx="573.60" cy="776.60" r="2.40" fill="none" stroke="#000" stroke-width="0.8"/>
<text x="600.70" y="748.90" font-family="Liberation Sans" font-size="11" fill="#222" font-weight="normal" text-anchor="start"   xml:space="preserve">62  B1</text>
<line x1="541.70" y1="776.50" x2="571.00" y2="776.50" stroke="#222" stroke-width="0.8" />
<line x1="541.50" y1="776.60" x2="541.50" y2="808.00" stroke="#222" stroke-width="0.8" />
<text x="0" y="0" transform="translate(540.50,784.40) rotate(-90)" font-family="Liberation Sans" font-size="11" fill="#222"  xml:space="preserve">32</text>
<text x="0" y="0" transform="translate(540.50,809.60) rotate(-90)" font-family="Liberation Sans" font-size="11" fill="#222"  xml:space="preserve">106</text>
<circle cx="551.70" cy="933.00" r="57.90" fill="none" stroke="#000" stroke-width="1"/>
<line x1="498.20" y1="954.50" x2="606.00" y2="954.50" stroke="#000" stroke-width="1" />
<path d="M514.2,954.2 L514.2,942 Q514.2,921 535,916.5 Q551.7,913 568,916.5 Q589.2,921 589.2,942 L589.2,954.2" fill="none" stroke="#000" stroke-width="1" />
<path d="M519.5,954.2 L519.5,943 Q521,924 540,919 Q551.7,916.5 563,919 Q582,924 583.8,943 L583.8,954.2" fill="none" stroke="#000" stroke-width="1.8" />
<rect x="519.50" y="943.00" width="3.50" height="11.00" rx="0" fill="none" stroke="#000" stroke-width="1" />
<rect x="580.50" y="943.00" width="3.50" height="11.00" rx="0" fill="none" stroke="#000" stroke-width="1" />
<rect x="545.50" y="917.00" width="12.00" height="2.80" rx="0" fill="none" stroke="#000" stroke-width="1" />
<line x1="522.00" y1="951.50" x2="581.00" y2="951.50" stroke="#000" stroke-width="1" />
<rect x="538.20" y="925.30" width="27.00" height="15.30" rx="7.6" fill="none" stroke="#000" stroke-width="1.2" />
<line x1="538.50" y1="909.00" x2="538.50" y2="932.00" stroke="#222" stroke-width="0.8" />
<line x1="565.50" y1="909.00" x2="565.50" y2="926.00" stroke="#222" stroke-width="0.8" />
<line x1="538.20" y1="910.50" x2="565.60" y2="910.50" stroke="#222" stroke-width="0.8" />
<line x1="515.50" y1="954.00" x2="515.50" y2="973.00" stroke="#222" stroke-width="0.8" />
<line x1="589.50" y1="954.00" x2="589.50" y2="973.00" stroke="#222" stroke-width="0.8" />
<line x1="515.00" y1="971.50" x2="589.20" y2="971.50" stroke="#222" stroke-width="0.8" />
<text x="532.40" y="967.80" font-family="Liberation Sans" font-size="11" fill="#222" font-weight="normal" text-anchor="start"   xml:space="preserve">61.6  A2</text>
<text x="537.50" y="907.20" font-family="Liberation Sans" font-size="11" fill="#222" font-weight="normal" text-anchor="start"   xml:space="preserve">20  A1</text>
<line x1="501.80" y1="901.30" x2="526.60" y2="924.60" stroke="#222" stroke-width="0.8" />
<line x1="566.00" y1="929.00" x2="592.00" y2="916.60" stroke="#222" stroke-width="0.8" />
<text x="0" y="0" transform="translate(506.00,897.50) rotate(45)" font-family="Liberation Sans" font-size="11" fill="#222"  xml:space="preserve">R20</text>
<text x="0" y="0" transform="translate(577.00,921.00) rotate(-25)" font-family="Liberation Sans" font-size="11" fill="#222"  xml:space="preserve">R6</text>
</svg>
</body></html>
